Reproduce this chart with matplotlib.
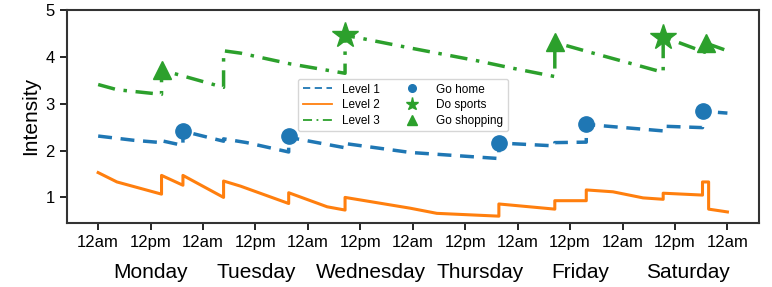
import matplotlib
matplotlib.use("Agg")
from matplotlib import pyplot as plt

plt.rcParams['font.family'] = ['Liberation Sans', 'DejaVu Sans']

# hours since Monday 12am
x1 = [0, 8.1, 14.5, 14.5, 19.4, 19.4, 21.8, 28.7, 28.7, 34, 43.6, 43.6, 45.5, 56.5, 56.5,
      71.4, 91.7, 91.7, 94.2, 104.5, 104.5, 111.7, 111.7, 114, 129.3, 129.3, 138.3, 138.3, 144]
y1 = [2.31, 2.22, 2.17, 2.21, 2.11, 2.42, 2.36, 2.20, 2.25, 2.17, 1.97, 2.31, 2.25, 2.06, 2.15,
      1.96, 1.83, 2.16, 2.15, 2.10, 2.17, 2.18, 2.56, 2.54, 2.42, 2.52, 2.49, 2.84, 2.80]

x2 = [0, 4.3, 14.5, 14.5, 19.4, 19.4, 28.7, 28.7, 32.6, 43.6, 43.6, 52.4, 56.5, 56.5, 71.4,
      77.5, 91.7, 91.7, 104.5, 104.5, 111.7, 111.7, 117.8, 124.7, 129.3, 129.3, 138.3, 138.3,
      139.7, 139.7, 144]
y2 = [1.53, 1.33, 1.07, 1.47, 1.26, 1.47, 1.00, 1.35, 1.24, 0.87, 1.10, 0.80, 0.73, 1.00, 0.77,
      0.66, 0.60, 0.86, 0.75, 0.93, 0.93, 1.16, 1.12, 0.99, 0.96, 1.09, 1.05, 1.33,
      1.33, 0.75, 0.69]

x3 = [0, 4.3, 14.5, 14.5, 19.5, 28.7, 28.7, 32.6, 44, 56.5, 56.5, 60, 71.4, 86.6, 94.2, 104.5,
      104.5, 112.5, 129.3, 129.3, 138.8, 139.2, 144]
y3 = [3.41, 3.30, 3.20, 3.72, 3.59, 3.35, 4.13, 4.08, 3.85, 3.65, 4.46, 4.40, 4.19, 3.92, 3.77, 3.58,
      4.31, 4.10, 3.67, 4.43, 4.10, 4.29, 4.13]

# events
home_x = [19.4, 43.6, 91.7, 111.7, 138.3]
home_y = [2.42, 2.31, 2.16, 2.56, 2.84]
sports_x = [56.5, 129.3]
sports_y = [4.46, 4.43]
shop_x = [14.5, 104.5, 139.2]
shop_y = [3.72, 4.31, 4.30]

tick_labels = ['12am', '12pm'] * 6 + ['12am']
days = ['Monday', 'Tuesday', 'Wednesday', 'Thursday', 'Friday', 'Saturday']
day_pos = [12, 36.2, 62.5, 87.4, 110.4, 135]

blue, orange, green = '#1f77b4', '#ff7f0e', '#2ca02c'

fig, ax = plt.subplots(figsize=(7.72, 2.87), dpi=100)
fig.subplots_adjust(left=0.0864, right=0.983, top=0.965, bottom=0.224)

ax.plot(x1, y1, color=blue, lw=2.5, ls=(0, (4, 2.5)), label='Level 1')
ax.plot(x2, y2, '-', color=orange, lw=2.2, label='Level 2')
ax.plot(x3, y3, color=green, lw=2.5, ls=(0, (5, 2.5, 1, 2.5)), label='Level 3')
ax.plot(home_x, home_y, 'o', color=blue, ms=11, ls='none', label='Go home')
ax.plot(sports_x, sports_y, '*', color=green, ms=19, ls='none', label='Do sports')
ax.plot(shop_x, shop_y, '^', color=green, ms=13, ls='none', label='Go shopping')

ax.set_xlim(-7.2, 151.2)
ax.set_ylim(0.46, 5)
ax.set_xticks(range(0, 145, 12))
ax.set_xticklabels(tick_labels, fontsize=12)
ax.set_yticks([1, 2, 3, 4, 5])
ax.tick_params(axis='both', labelsize=12, length=5, width=1.2)
ax.set_ylabel('Intensity', fontsize=15)

for d, p in zip(days, day_pos):
    ax.text(p, -0.19, d, transform=ax.get_xaxis_transform(), ha='center', va='top', fontsize=15)

for s in ax.spines.values():
    s.set_linewidth(1.5)
    s.set_color('#333333')

leg = ax.legend(ncol=2, loc='center', bbox_to_anchor=(0.486, 0.553), fontsize=8.5,
                markerscale=0.5, handlelength=2.5, columnspacing=1.5, labelspacing=0.3)
for h in leg.get_lines()[:3]:
    h.set_linewidth(1.3)

fig.savefig('out.png')
